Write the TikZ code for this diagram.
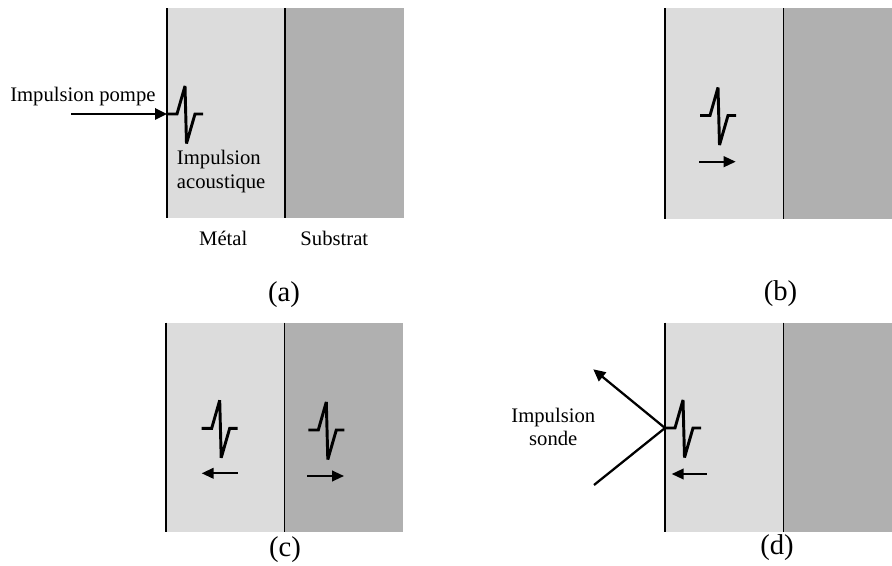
\documentclass[tikz,border=0pt]{standalone}
\usepackage{fontspec}
\setmainfont{Liberation Serif}
\usetikzlibrary{arrows.meta}
\definecolor{metalc}{RGB}{220,220,220}
\definecolor{substc}{RGB}{176,176,176}
\tikzset{
  outer/.style={line width=1.5pt},
  iface/.style={line width=0.9pt},
  pulseline/.style={line width=2.2pt, line join=miter, miter limit=2.5},
  arr/.style={line width=1.7pt, -{Triangle[length=9pt,width=8.5pt]}},
  sarr/.style={line width=1.5pt, -{Triangle[length=9pt,width=8pt]}},
  lbl/.style={font=\fontsize{15.5}{17.6}\selectfont, inner sep=0pt},
  caption/.style={font=\fontsize{21.5}{24}\selectfont, inner sep=0pt, anchor=base},
  pics/pulse/.style={code={\draw[pulseline] (0,0) -- (10,0) -- (18,-28) -- (19.5,29.5) -- (28,0) -- (36,0);}}
}
\begin{document}
\begin{tikzpicture}[x=0.75pt,y=-0.75pt]
\useasboundingbox (0,0) rectangle (892,566);
% ---------- panel (a)
\fill[metalc] (167,8.5) rectangle (285,218.3);
\fill[substc] (285,8.5) rectangle (404,218.3);
\draw[outer] (167,8.5) -- (167,218.3);
\draw[iface] (285,8.5) -- (285,218.3);
\coordinate (pumpstart) at (71,114);
\coordinate (pumphit) at (167,114);
\draw[arr] (pumpstart) -- (pumphit);
\pic at (pumphit) {pulse};
\node[lbl, anchor=base west] (pompe) at (10,101.7) {Impulsion pompe};
\node[lbl, anchor=base west] (acou1) at (176.7,165) {Impulsion};
\node[lbl, anchor=base west] (acou2) at (176.7,188.5) {acoustique};
\node[lbl, anchor=base] (metal) at (223.3,246) {Métal};
\node[lbl, anchor=base] (substrat) at (334.3,246) {Substrat};
\node[caption] (capa) at (284,302) {(a)};
% ---------- panel (b)
\fill[metalc] (665,8.5) rectangle (783.3,219);
\fill[substc] (783.3,8.5) rectangle (892,219);
\draw[outer] (665,8.5) -- (665,219);
\draw[iface] (783.3,8.5) -- (783.3,219);
\pic at (700,115.5) {pulse};
\coordinate (b1) at (699,161.7);
\coordinate (b2) at (735.7,161.7);
\draw[sarr] (b1) -- (b2);
\node[caption] (capb) at (780.5,301) {(b)};
% ---------- panel (c)
\fill[metalc] (166,322.7) rectangle (284.3,531.7);
\fill[substc] (284.3,322.7) rectangle (402.7,531.7);
\draw[outer] (166,322.7) -- (166,531.7);
\draw[iface] (284.3,322.7) -- (284.3,531.7);
\pic at (201.7,428.3) {pulse};
\coordinate (c1) at (237.7,473.3);
\coordinate (c2) at (201.7,473.3);
\draw[sarr] (c1) -- (c2);
\pic at (308.3,430) {pulse};
\coordinate (c3) at (307.3,476);
\coordinate (c4) at (344,476);
\draw[sarr] (c3) -- (c4);
\node[caption] (capc) at (285,556) {(c)};
% ---------- panel (d)
\fill[metalc] (665,322.7) rectangle (783.3,532.3);
\fill[substc] (783.3,322.7) rectangle (892,532.3);
\draw[outer] (665,322.7) -- (665,532.3);
\draw[iface] (783.3,322.7) -- (783.3,532.3);
\coordinate (probein) at (594,485);
\coordinate (probehit) at (665,428);
\coordinate (probeout) at (593.3,369.3);
\draw[arr, line join=miter] (probein) -- (probehit) -- (probeout);
\pic at (probehit) {pulse};
\coordinate (d1) at (706.7,474);
\coordinate (d2) at (671.7,474);
\draw[sarr] (d1) -- (d2);
\node[lbl, anchor=base] (sonde1) at (553.3,422) {Impulsion};
\node[lbl, anchor=base] (sonde2) at (553.3,445) {sonde};
\node[caption] (capd) at (777,554) {(d)};
\end{tikzpicture}
\end{document}
